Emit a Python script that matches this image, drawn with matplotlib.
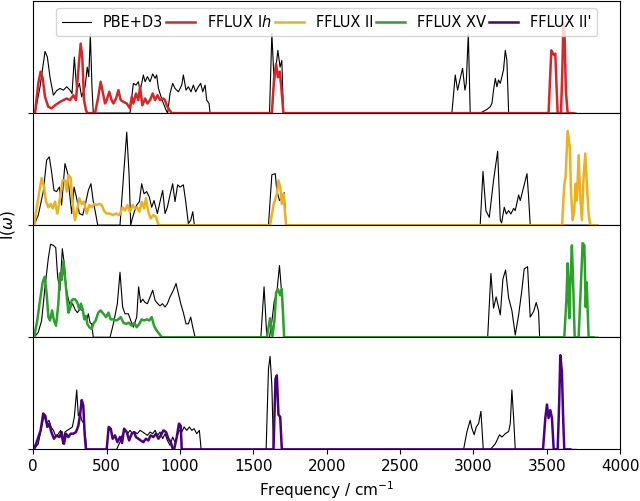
import numpy as np
import matplotlib.pyplot as plt

# Frequencies in cm^-1, intensities in arbitrary units (panel height = 1)

# panel 1: PBE+D3 vs FFLUX Ih
pbe1_f = [0, 12, 46, 80, 96, 114, 137, 159, 182, 205,
          228, 250, 264, 280, 296, 314, 330, 353, 368, 378,
          389, 400, 409, 659, 682, 700, 716, 728, 739, 750,
          762, 778, 796, 814, 830, 841, 853, 871, 887, 905,
          916, 932, 950, 966, 989, 1012, 1023, 1041, 1057, 1075,
          1091, 1107, 1125, 1141, 1155, 1171, 1182, 1198, 1205, 1610,
          1626, 1642, 1667, 1682, 1694, 1705, 2853, 2876, 2892, 2910,
          2926, 2942, 2951, 2965, 2978, 3046, 3092, 3115, 3126, 3137,
          3149, 3160, 3171, 3183, 3194, 3205, 3217, 3228, 3240, 3700]
pbe1_i = [0, 0, 0.235, 0.55, 0.50, 0.32, 0.16, 0.20, 0.22, 0.205,
          0.235, 0.205, 0.175, 0.50, 0.205, 0.265, 0.145, 0.235, 0.41, 0.325,
          0.70, 0.235, 0, 0, 0.265, 0.25, 0.28, 0.205, 0.265, 0.34,
          0.28, 0.325, 0.28, 0.35, 0.31, 0.34, 0.22, 0.145, 0.086, 0.027,
          0, 0.175, 0.265, 0.22, 0.19, 0.25, 0.34, 0.205, 0.235, 0.19,
          0.25, 0.19, 0.235, 0.265, 0.19, 0.25, 0.116, 0.086, 0, 0,
          0.71, 0.265, 0.56, 0.41, 0.47, 0, 0, 0.34, 0.205, 0.31,
          0.40, 0.205, 0.265, 0.71, 0, 0, 0.033, 0.057, 0.087, 0.205,
          0.31, 0.235, 0.295, 0.265, 0.325, 0.385, 0.56, 0.47, 0, 0]

ih_f = [0, 12, 34, 50, 64, 80, 102, 125, 148, 182,
        205, 228, 250, 273, 291, 307, 323, 334, 346, 359,
        368, 421, 443, 459, 473, 489, 500, 518, 534, 546,
        564, 580, 596, 614, 637, 659, 671, 682, 700, 716,
        728, 743, 762, 778, 796, 814, 830, 846, 864, 887,
        898, 909, 928, 944, 1626, 1642, 1655, 1667, 1680, 1690,
        1705, 3512, 3522, 3531, 3547, 3558, 3566, 3574, 3597, 3606,
        3613, 3620, 3630, 3642, 3680]
ih_i = [0, 0, 0.265, 0.37, 0.31, 0.145, 0.057, 0.042, 0.07, 0.10,
        0.116, 0.13, 0.116, 0.16, 0.116, 0.38, 0.62, 0.50, 0.116, 0.027,
        0, 0, 0.145, 0.28, 0.19, 0.086, 0.116, 0.19, 0.116, 0.086,
        0.13, 0.205, 0.116, 0.10, 0.086, 0.042, 0.145, 0.086, 0.175, 0.116,
        0.235, 0.07, 0.13, 0.086, 0.116, 0.175, 0.116, 0.16, 0.116, 0.13,
        0.116, 0.07, 0.027, 0, 0, 0.32, 0.44, 0.32, 0.37, 0.235,
        0, 0, 0.3, 0.56, 0.52, 0.53, 0.25, 0, 0, 0.4,
        0.80, 0.75, 0.2, 0, 0]

# panel 2: PBE+D3 vs FFLUX II
pbe2_f = [0, 5, 34, 68, 91, 109, 125, 141, 159, 178,
          193, 216, 232, 246, 262, 278, 296, 314, 337, 359,
          375, 393, 409, 427, 439, 591, 614, 637, 653, 664,
          675, 689, 705, 723, 739, 755, 773, 791, 807, 823,
          846, 864, 882, 898, 914, 932, 950, 966, 984, 1000,
          1023, 1039, 1057, 1073, 1087, 1098, 1603, 1626, 1649, 1660,
          1678, 1694, 1710, 1723, 3046, 3065, 3085, 3108, 3137, 3165,
          3183, 3192, 3210, 3224, 3240, 3255, 3274, 3285, 3308, 3319,
          3342, 3365, 3376, 3387, 3850]
pbe2_i = [0, 0, 0.09, 0.30, 0.58, 0.61, 0.475, 0.31, 0.30, 0.34,
          0.18, 0.55, 0.475, 0.30, 0.104, 0.34, 0.24, 0.104, 0.09, 0.21,
          0.31, 0.37, 0.21, 0.09, 0, 0, 0.42, 0.83, 0.45, 0,
          0.06, 0.12, 0.18, 0.21, 0.37, 0.28, 0.30, 0.25, 0.16, 0.22,
          0.104, 0.21, 0.31, 0.104, 0.16, 0.27, 0.37, 0.21, 0.36, 0.34,
          0.36, 0.21, 0.015, 0.045, 0.12, 0, 0, 0.45, 0.46, 0.31,
          0.22, 0.24, 0.29, 0, 0, 0.48, 0.13, 0.07, 0.40, 0.66,
          0.045, 0.02, 0.16, 0.10, 0.13, 0.10, 0.15, 0.13, 0.27, 0.22,
          0.34, 0.46, 0.25, 0, 0]

ii_f = [0, 5, 23, 41, 57, 73, 87, 103, 118, 132,
        148, 164, 182, 200, 216, 228, 239, 255, 268, 284,
        296, 314, 330, 346, 364, 382, 398, 414, 432, 450,
        466, 482, 500, 523, 541, 564, 587, 609, 625, 641,
        659, 678, 693, 709, 723, 739, 755, 768, 784, 800,
        818, 837, 853, 1614, 1637, 1660, 1671, 1683, 1694, 1705,
        1723, 3604, 3619, 3628, 3642, 3656, 3665, 3676, 3687, 3696,
        3705, 3717, 3728, 3739, 3751, 3762, 3774, 3785, 3796, 3842]
ii_i = [0, 0, 0.15, 0.30, 0.42, 0.34, 0.21, 0.16, 0.19, 0.15,
        0.21, 0.104, 0.24, 0.40, 0.40, 0.30, 0.45, 0.42, 0.19, 0.045,
        0.12, 0.24, 0.19, 0.21, 0.104, 0.18, 0.16, 0.19, 0.18, 0.19,
        0.18, 0.13, 0.104, 0.104, 0.09, 0.104, 0.09, 0.16, 0.13, 0.18,
        0.12, 0.18, 0.15, 0.16, 0.12, 0.21, 0.15, 0.24, 0.12, 0.06,
        0.09, 0.075, 0, 0, 0.18, 0.28, 0.40, 0.34, 0.19, 0.28,
        0, 0, 0.36, 0.43, 0.84, 0.70, 0.31, 0.045, 0.13, 0.37,
        0.22, 0.625, 0.25, 0.045, 0.43, 0.64, 0.34, 0.10, 0, 0]

# panel 3: PBE+D3 vs FFLUX XV
pbe3_f = [0, 5, 34, 57, 80, 103, 118, 137, 153, 166,
          182, 198, 212, 223, 239, 255, 268, 284, 300, 318,
          334, 348, 364, 375, 387, 398, 409, 523, 546, 573,
          591, 609, 625, 648, 664, 682, 705, 718, 732, 746,
          762, 778, 796, 814, 830, 848, 864, 880, 898, 914,
          932, 955, 973, 989, 1005, 1023, 1041, 1057, 1073, 1087,
          1103, 1551, 1573, 1592, 1610, 1626, 1642, 1660, 1678, 1694,
          1710, 3097, 3119, 3137, 3155, 3183, 3201, 3219, 3240, 3262,
          3285, 3308, 3330, 3346, 3369, 3387, 3410, 3428, 3444, 3451,
          3850]
pbe3_i = [0, 0, 0.045, 0.15, 0.45, 0.71, 0.83, 0.82, 0.80, 0.54,
          0.42, 0.79, 0.65, 0.45, 0.34, 0.27, 0.30, 0.25, 0.22, 0.25,
          0.24, 0.18, 0.15, 0.21, 0.13, 0.12, 0, 0, 0.12, 0.30,
          0.58, 0.27, 0.21, 0.21, 0.15, 0.09, 0.18, 0.45, 0.31, 0.34,
          0.31, 0.30, 0.36, 0.42, 0.33, 0.30, 0.28, 0.30, 0.27, 0.30,
          0.36, 0.42, 0.48, 0.39, 0.30, 0.22, 0.12, 0.12, 0.18, 0.09,
          0, 0, 0.45, 0, 0, 0.14, 0.32, 0.40, 0.64, 0.375,
          0, 0, 0.57, 0.26, 0.36, 0.20, 0.52, 0.60, 0.35, 0.24,
          0.02, 0.20, 0.42, 0.61, 0.63, 0.18, 0.23, 0.31, 0.23, 0,
          0]

xv_f = [0, 5, 27, 46, 64, 78, 91, 103, 114, 128,
        141, 155, 171, 182, 193, 205, 216, 228, 239, 250,
        262, 273, 284, 300, 314, 325, 337, 348, 359, 368,
        382, 398, 409, 425, 443, 459, 478, 496, 512, 528,
        546, 564, 580, 596, 614, 632, 650, 671, 689, 705,
        723, 739, 755, 773, 791, 807, 823, 841, 859, 875,
        1592, 1614, 1630, 1644, 1655, 1667, 1683, 1694, 1710, 3619,
        3633, 3642, 3653, 3660, 3671, 3678, 3690, 3717, 3735, 3744,
        3756, 3765, 3772, 3785, 3819]
xv_i = [0, 0, 0.15, 0.33, 0.49, 0.54, 0.39, 0.18, 0.15, 0.24,
        0.15, 0.104, 0.30, 0.57, 0.51, 0.68, 0.54, 0.37, 0.22, 0.25,
        0.33, 0.34, 0.34, 0.31, 0.25, 0.30, 0.25, 0.16, 0.19, 0.12,
        0.09, 0.075, 0.12, 0.15, 0.22, 0.24, 0.21, 0.18, 0.22, 0.16,
        0.16, 0.15, 0.16, 0.18, 0.13, 0.12, 0.13, 0.104, 0.13, 0.09,
        0.12, 0.16, 0.15, 0.16, 0.15, 0.18, 0.104, 0.06, 0.03, 0,
        0, 0.17, 0.01, 0.15, 0.40, 0.43, 0.375, 0.43, 0, 0,
        0.32, 0.66, 0.17, 0.46, 0.82, 0.55, 0, 0, 0.55, 0.84,
        0.82, 0.27, 0.49, 0, 0]

# panel 4: PBE+D3 vs FFLUX II'
pbe4_f = [0, 5, 34, 57, 73, 91, 107, 121, 137, 155,
          171, 187, 200, 216, 232, 250, 266, 280, 296, 307,
          318, 330, 341, 353, 364, 568, 591, 609, 627, 643,
          659, 678, 693, 709, 728, 746, 762, 778, 796, 814,
          830, 848, 864, 882, 898, 914, 932, 950, 966, 982,
          996, 1012, 1028, 1046, 1064, 1080, 1096, 1114, 1132, 1144,
          1587, 1603, 1614, 1626, 1637, 2933, 2956, 2978, 2989, 3005,
          3019, 3035, 3051, 3067, 3115, 3149, 3178, 3194, 3217, 3240,
          3251, 3262, 3274, 3285, 3700]
pbe4_i = [0, 0, 0.05, 0.20, 0.30, 0.23, 0.26, 0.20, 0.17, 0.11,
          0.14, 0.17, 0.05, 0.155, 0.17, 0.185, 0.20, 0.29, 0.53, 0.30,
          0.33, 0.26, 0.24, 0.14, 0, 0, 0.065, 0.14, 0.17, 0.14,
          0.17, 0.14, 0.155, 0.14, 0.17, 0.155, 0.14, 0.125, 0.155, 0.14,
          0.17, 0.125, 0.155, 0.095, 0.14, 0.08, 0.036, 0.11, 0.065, 0.125,
          0.17, 0.155, 0.20, 0.17, 0.20, 0.17, 0.185, 0.14, 0.17, 0,
          0, 0.72, 0.83, 0.57, 0, 0, 0.16, 0.26, 0.19, 0.13,
          0.20, 0.23, 0.34, 0, 0, 0.05, 0.13, 0.11, 0.14, 0.16,
          0.23, 0.53, 0.28, 0, 0]

iip_f = [0, 5, 27, 50, 68, 82, 96, 109, 123, 141,
         159, 178, 193, 209, 223, 239, 255, 273, 291, 307,
         318, 330, 341, 350, 359, 500, 514, 528, 541, 557,
         573, 591, 605, 619, 637, 653, 671, 687, 700, 716,
         732, 750, 768, 784, 800, 818, 837, 853, 869, 887,
         905, 921, 937, 950, 960, 978, 993, 1005, 1012, 1637,
         1651, 1660, 1671, 1683, 1694, 3474, 3490, 3501, 3512, 3524,
         3535, 3547, 3574, 3584, 3592, 3603, 3611, 3619, 3660]
iip_i = [0, 0, 0.08, 0.17, 0.32, 0.30, 0.20, 0.23, 0.155, 0.095,
         0.125, 0.11, 0.155, 0.05, 0.14, 0.11, 0.14, 0.14, 0.155, 0.21,
         0.30, 0.44, 0.39, 0.14, 0, 0, 0.20, 0.185, 0.095, 0.125,
         0.065, 0.11, 0.057, 0.185, 0.155, 0.08, 0.14, 0.155, 0.11, 0.095,
         0.08, 0.065, 0.095, 0.08, 0.125, 0.11, 0.14, 0.095, 0.125, 0.17,
         0.155, 0.095, 0.065, 0.006, 0, 0.11, 0.23, 0.21, 0, 0,
         0.63, 0.66, 0.31, 0.29, 0, 0, 0.28, 0.40, 0.28, 0.35,
         0.28, 0, 0, 0.4, 0.84, 0.69, 0.3, 0, 0]

labels = ['FFLUX I$h$', 'FFLUX II', 'FFLUX XV', "FFLUX II'"]
colors = ['#d62728', '#edb120', '#2ca02c', '#4b0082']
pbe = [(pbe1_f, pbe1_i), (pbe2_f, pbe2_i), (pbe3_f, pbe3_i), (pbe4_f, pbe4_i)]
fflux = [(ih_f, ih_i), (ii_f, ii_i), (xv_f, xv_i), (iip_f, iip_i)]

fig, axes = plt.subplots(4, 1, sharex=True, figsize=(6.4, 5.01), dpi=100)
fig.subplots_adjust(left=0.052, right=0.969, bottom=0.103, top=0.998, hspace=0)

handles = []
for k, ax in enumerate(axes):
    hb, = ax.plot(pbe[k][0], pbe[k][1], color='k', lw=0.8, label='PBE+D3')
    hc, = ax.plot(fflux[k][0], fflux[k][1], color=colors[k], lw=1.8,
                  label=labels[k], solid_joinstyle='round')
    if k == 0:
        handles.append(hb)
    handles.append(hc)
    ax.set_ylim(0, 1)
    ax.set_yticks([0])
    ax.set_yticklabels([])
    if k < 3:
        ax.tick_params(axis='x', length=0)

axes[3].set_xlim(0, 4000)
axes[3].set_xticks(np.arange(0, 4001, 500))
axes[3].tick_params(axis='x', labelsize=11)
axes[3].set_xlabel('Frequency / cm$^{-1}$', fontsize=11)

axes[0].legend(handles=handles, loc='upper center', ncol=5, fontsize=10.5,
               columnspacing=0.2, handletextpad=0.8)

fig.text(0.0125, 0.55, 'I($\\omega$)', rotation=90, ha='center', va='center', fontsize=11)

plt.savefig('out.png', dpi=100)
